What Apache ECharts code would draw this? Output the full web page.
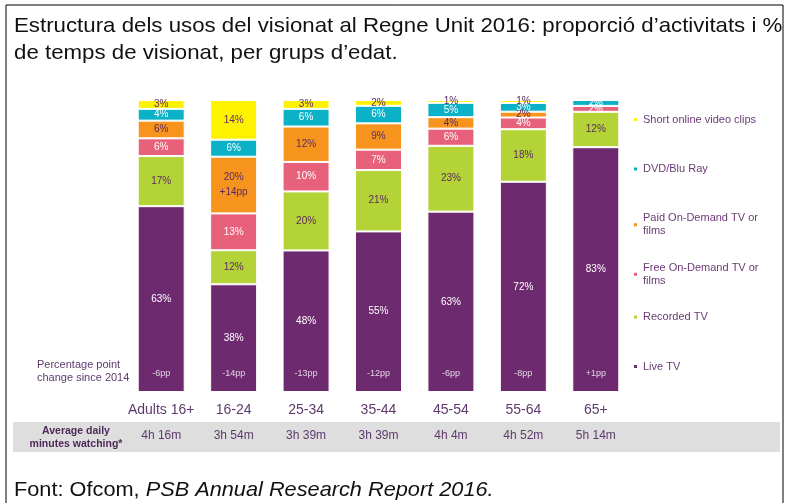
<!DOCTYPE html>
<html>
<head>
<meta charset="utf-8">
<script src="https://cdn.jsdelivr.net/npm/echarts@6/dist/echarts.min.js"></script>
<style>
html,body{margin:0;padding:0;background:#fff;}
#chart{width:786px;height:503px;}
</style>
</head>
<body>
<div id="chart"></div>
<script>
const categories = ['Adults 16+', '16-24', '25-34', '35-44', '45-54', '55-64', '65+'];
const liveTV       = [63, 38, 48, 55, 63, 72, 83];
const recordedTV   = [17, 12, 20, 21, 23, 18, 12];
const freeOnDemand = [6, 13, 10, 7, 6, 4, 2];
const paidOnDemand = [6, 20, 12, 9, 4, 2, 0];
const dvdBluRay    = [4, 6, 6, 6, 5, 3, 2];
const shortClips   = [3, 14, 3, 2, 1, 1, 0];
const ppChange     = ['-6pp', '-14pp', '-13pp', '-12pp', '-6pp', '-8pp', '+1pp'];
const paidChange   = ['', '+14pp', '', '', '', '', ''];
const avgMinutes   = ['4h 16m', '3h 54m', '3h 39m', '3h 39m', '4h 4m', '4h 52m', '5h 14m'];
const seriesNames  = ['Live TV', 'Recorded TV', 'Free On-Demand TV or films', 'Paid On-Demand TV or films', 'DVD/Blu Ray', 'Short online video clips'];
const legendNames  = ['Short online video clips', 'DVD/Blu Ray', 'Paid On-Demand TV or films', 'Free On-Demand TV or films', 'Recorded TV', 'Live TV'];

const rawSeries = [liveTV, recordedTV, freeOnDemand, paidOnDemand, dvdBluRay, shortClips];
const colors = ['#6d2a6f', '#b3d337', '#e8617a', '#f7941e', '#0bb1c6', '#fff200'];
const labelColors = ['#ffffff', '#5d2a60', '#ffffff', '#5d2a60', '#ffffff', '#5d2a60'];
const totals = categories.map((c, i) => rawSeries.reduce((s, arr) => s + arr[i], 0));

const PURPLE_TEXT = '#5e3a6c';
const FONT = 'Liberation Sans, Arial, sans-serif';

const barSeries = rawSeries.map((arr, si) => ({
  name: seriesNames[si],
  type: 'bar',
  stack: 'total',
  barWidth: 47,
  data: arr.map((v, i) => v / totals[i] * 100),
  itemStyle: { color: colors[si], borderColor: '#ffffff', borderWidth: 1 },
  label: {
    show: true,
    position: 'inside',
    color: labelColors[si],
    fontSize: 10,
    fontFamily: FONT,
    lineHeight: 15,
    formatter: p => {
      const raw = arr[p.dataIndex];
      if (!raw) return '';
      let s = raw + '%';
      if (si === 3 && paidChange[p.dataIndex]) s += '\n' + paidChange[p.dataIndex];
      return s;
    }
  },
  emphasis: { disabled: true }
}));

const PP_Y = 6.5;
const ppSeries = {
  type: 'scatter',
  symbolSize: 0,
  z: 10,
  data: categories.map((c, i) => [i, PP_Y]),
  label: {
    show: true,
    position: 'inside',
    color: '#ffffff',
    fontSize: 9,
    fontFamily: FONT,
    formatter: p => ppChange[p.dataIndex]
  },
  silent: true
};

const legendTop0 = 113, legendStep = 49.4;
const legends = legendNames.map((n, i) => ({
  data: [n],
  orient: 'vertical',
  left: 632,
  top: legendTop0 + i * legendStep,
  padding: 0,
  icon: 'rect',
  itemWidth: 5,
  itemHeight: 5,
  selectedMode: false,
  textStyle: { color: '#6b3a76', fontSize: 11, fontFamily: FONT, lineHeight: 13 },
  formatter: name => name.replace(' TV or films', ' TV or\nfilms')
}));

const chart = echarts.init(document.getElementById('chart'), null, { renderer: 'canvas' });
chart.setOption({
  animation: false,
  backgroundColor: '#ffffff',
  grid: { left: 125, right: 154, top: 100, bottom: 111 },
  legend: legends,
  xAxis: [
    {
      type: 'category',
      data: categories,
      z: 10,
      axisLine: { show: false },
      axisTick: { show: false },
      axisLabel: { color: PURPLE_TEXT, fontSize: 14, fontFamily: FONT, margin: 11, interval: 0 }
    },
    {
      type: 'category',
      data: avgMinutes,
      position: 'bottom',
      offset: 38,
      z: 10,
      axisLine: { show: false },
      axisTick: { show: false },
      axisLabel: { color: PURPLE_TEXT, fontSize: 12, fontFamily: FONT, margin: 0, interval: 0 }
    }
  ],
  yAxis: {
    type: 'value',
    min: 0,
    max: 100,
    show: false,
    splitLine: { show: false }
  },
  series: barSeries.concat([ppSeries]),
  graphic: [
    { type: 'rect', z: -10, shape: { x: 6, y: 5, width: 777, height: 520 }, style: { fill: 'none', stroke: '#000', lineWidth: 1 } },
    { type: 'rect', z: -5, shape: { x: 13, y: 422, width: 767, height: 30 }, style: { fill: '#dedede' } },
    { type: 'text', x: 14, y: 13, scaleX: 1.06, style: { text: 'Estructura dels usos del visionat al Regne Unit 2016: proporció d\u2019activitats i %\nde temps de visionat, per grups d\u2019edat.', fill: '#111', font: '21px ' + FONT, lineHeight: 27 } },
    { type: 'text', left: 37, top: 358, style: { text: 'Percentage point\nchange since 2014', fill: PURPLE_TEXT, font: '11px ' + FONT, lineHeight: 13 } },
    { type: 'text', z: 10, x: 76, y: 425, style: { text: 'Average daily\nminutes watching*', fill: '#4e2a5a', font: 'bold 10.5px ' + FONT, lineHeight: 13, align: 'center' } },
    { type: 'text', x: 14, y: 480, scaleX: 1.035, style: { rich: { n: { fontSize: 21, fontFamily: FONT, fill: '#111' }, i: { fontSize: 21, fontFamily: FONT, fontStyle: 'italic', fill: '#111' } }, text: '{n|Font: Ofcom, }{i|PSB Annual Research Report 2016.}' } }
  ]
});
</script>
</body>
</html>
